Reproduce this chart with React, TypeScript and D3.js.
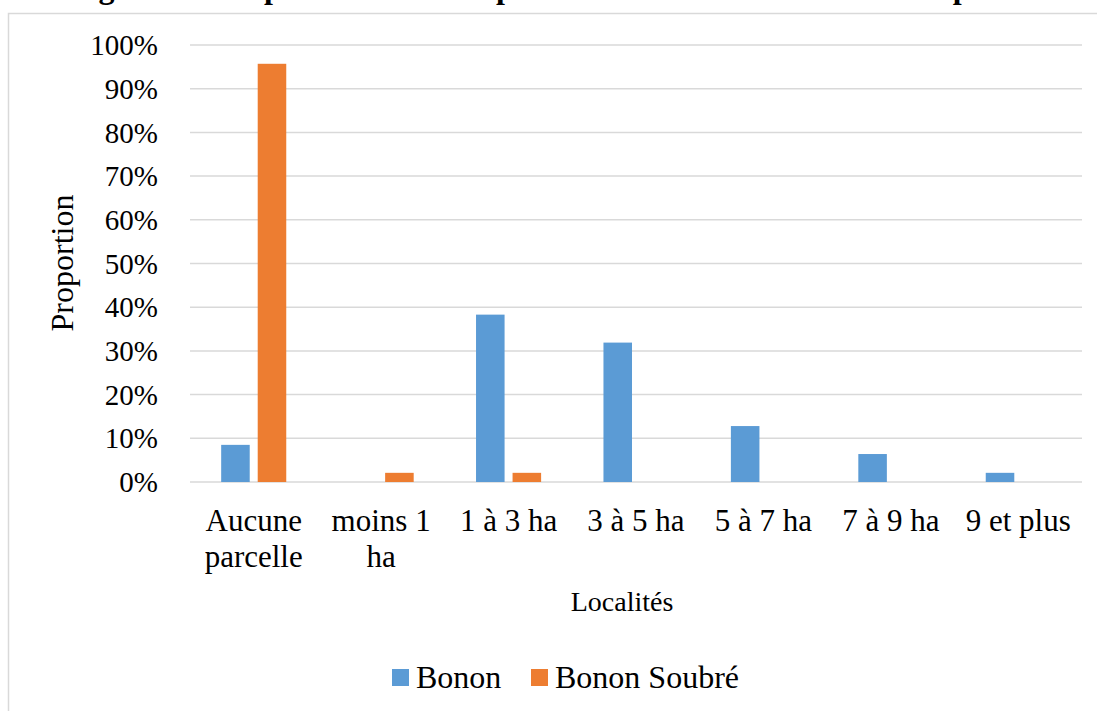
import React from "react";
import * as d3 from "d3";

// Farm-size classes (x axis) and the share of respondents in each class per locality
const categories = ["Aucune parcelle", "moins 1 ha", "1 à 3 ha", "3 à 5 ha", "5 à 7 ha", "7 à 9 ha", "9 et plus"];
const categoryLines = [["Aucune", "parcelle"], ["moins 1", "ha"], ["1 à 3 ha"], ["3 à 5 ha"], ["5 à 7 ha"], ["7 à 9 ha"], ["9 et plus"]];
const seriesNames = ["Bonon", "Bonon Soubré"];
const bonon = [0.085, 0, 0.383, 0.319, 0.128, 0.064, 0.021];
const bononSoubre = [0.957, 0.021, 0.021, 0, 0, 0, 0];
const yTicks = [0, 0.1, 0.2, 0.3, 0.4, 0.5, 0.6, 0.7, 0.8, 0.9, 1.0];
const colors = ["#5B9BD5", "#ED7D31"];
const title = "Figure 14 : Répartition de la superficie des sols cultivés en cacao par localité";

const W = 1097;
const H = 711;
const FONT = "'Liberation Serif', 'Times New Roman', serif";

export default function App() {
  const plot = { left: 190, right: 1082, top: 45, bottom: 482 };
  const x = d3.scaleBand<string>().domain(categories).range([plot.left, plot.right]).padding(0);
  const y = d3.scaleLinear().domain([0, 1]).range([plot.bottom, plot.top]);
  const band = x.bandwidth();
  const barW = band * 0.224;
  const gap = barW * 0.28;
  const groupW = barW * 2 + gap;
  const fmt = d3.format(".0%");
  const series = [bonon, bononSoubre];

  return (
    <svg width={W} height={H} style={{ position: "absolute", left: 0, top: 0, background: "#fff" }} fontFamily={FONT}>
      <rect x={0} y={0} width={W} height={H} fill="#fff" />
      {/* caption line, clipped by the top edge */}
      <text x={70} y={-2} fontSize={32} fontWeight="bold" fill="#000">{title}</text>
      {/* chart frame */}
      <rect x={8.5} y={13.5} width={W + 20} height={H + 20} fill="none" stroke="#d9d9d9" strokeWidth={1.5} />

      {/* gridlines and y ticks */}
      {yTicks.map((t) => (
        <g key={t}>
          <line x1={plot.left} x2={plot.right} y1={y(t)} y2={y(t)} stroke="#d9d9d9" strokeWidth={1.5} />
          <text x={158} y={y(t)} dy="0.35em" textAnchor="end" fontSize={29} fill="#000">{fmt(t)}</text>
        </g>
      ))}

      {/* bars */}
      {series.map((vals, si) =>
        vals.map((v, i) => {
          const x0 = (x(categories[i]) as number) + band / 2 - groupW / 2 + si * (barW + gap);
          if (v <= 0) return null;
          return <rect key={`${si}-${i}`} x={x0} y={y(v)} width={barW} height={y(0) - y(v)} fill={colors[si]} />;
        })
      )}

      {/* category labels */}
      {categoryLines.map((lines, i) => (
        <text key={i} x={(x(categories[i]) as number) + band / 2} y={531} textAnchor="middle" fontSize={31} fill="#000">
          {lines.map((l, j) => (
            <tspan key={j} x={(x(categories[i]) as number) + band / 2} dy={j === 0 ? 0 : 36}>{l}</tspan>
          ))}
        </text>
      ))}

      {/* axis titles */}
      <text transform={`translate(73,${263}) rotate(-90)`} textAnchor="middle" fontSize={32} fill="#000">Proportion</text>
      <text x={622} y={611} textAnchor="middle" fontSize={28} fill="#000">Localités</text>

      {/* legend */}
      {seriesNames.map((n, i) => {
        const lx = [392, 531][i];
        return (
          <g key={n}>
            <rect x={lx} y={669} width={17} height={17} fill={colors[i]} />
            <text x={lx + 24} y={688} fontSize={32} fill="#000">{n}</text>
          </g>
        );
      })}
    </svg>
  );
}
